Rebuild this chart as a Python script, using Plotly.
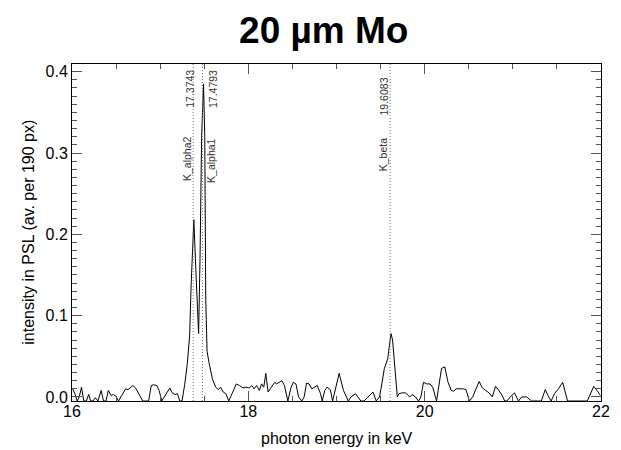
import plotly.graph_objects as go

# photon energy (keV) and intensity (PSL, av. per 190 px)
energy = [
    16.008, 16.033, 16.059, 16.082, 16.108, 16.134, 16.163, 16.189, 16.212, 16.238,
    16.264, 16.294, 16.331, 16.357, 16.386, 16.412, 16.442, 16.468, 16.498, 16.527,
    16.565, 16.583, 16.609, 16.635, 16.665, 16.691, 16.721, 16.746, 16.776, 16.802,
    16.839, 16.869, 16.899, 16.925, 16.962, 16.988, 17.018, 17.047, 17.084, 17.110,
    17.136, 17.166, 17.196, 17.222, 17.248, 17.278, 17.307, 17.334, 17.352, 17.370,
    17.382, 17.407, 17.436, 17.452, 17.470, 17.492, 17.506, 17.517, 17.532, 17.556,
    17.593, 17.630, 17.660, 17.685, 17.715, 17.745, 17.778, 17.815, 17.864, 17.900,
    17.940, 17.975, 18.010, 18.040, 18.065, 18.095, 18.125, 18.150, 18.175, 18.198,
    18.224, 18.260, 18.300, 18.320, 18.350, 18.380, 18.410, 18.448, 18.485, 18.511,
    18.540, 18.570, 18.607, 18.633, 18.660, 18.689, 18.719, 18.745, 18.782, 18.819,
    18.838, 18.867, 18.893, 18.930, 18.956, 19.030, 19.079, 19.134, 19.164, 19.216,
    19.276, 19.313, 19.376, 19.413, 19.451, 19.488, 19.514, 19.543, 19.581, 19.611,
    19.618, 19.636, 19.660, 19.690, 19.708, 19.745, 19.783, 19.831, 19.857, 19.894,
    19.931, 19.957, 19.987, 20.024, 20.061, 20.091, 20.135, 20.191, 20.228, 20.265,
    20.302, 20.328, 20.358, 20.432, 20.469, 20.507, 20.544, 20.581, 20.618, 20.655,
    20.692, 20.730, 20.767, 20.804, 20.841, 20.878, 20.908, 20.933, 20.970, 21.019,
    21.064, 21.100, 21.156, 21.212, 21.323, 21.368, 21.398, 21.435, 21.472, 21.517,
    21.565, 21.602, 21.621, 21.844, 21.881, 21.918, 21.955, 21.992,
]
intensity = [
    0.010, 0.004, -0.005, 0.000, 0.012, -0.005, -0.005, 0.003, -0.005, -0.005,
    -0.001, -0.005, 0.008, -0.005, -0.005, 0.008, 0.002, 0.003, 0.001, -0.005,
    0.002, 0.006, 0.010, 0.009, 0.012, 0.014, 0.011, 0.006, 0.001, -0.005,
    -0.005, -0.005, 0.014, 0.015, 0.014, 0.008, -0.005, 0.000, 0.006, 0.011,
    0.005, 0.003, 0.004, -0.005, -0.005, 0.015, 0.040, 0.075, 0.140, 0.200,
    0.218, 0.150, 0.078, 0.170, 0.320, 0.385, 0.320, 0.120, 0.056, 0.041,
    0.022, 0.012, 0.009, 0.012, 0.006, 0.004, -0.005, 0.004, 0.016, 0.014,
    0.011, 0.012, 0.011, 0.014, 0.010, 0.014, 0.008, 0.016, 0.012, 0.029,
    0.006, 0.012, 0.018, 0.016, 0.018, 0.020, 0.014, -0.005, 0.012, 0.018,
    0.016, 0.000, -0.005, 0.000, 0.017, 0.016, 0.010, 0.012, 0.014, 0.004,
    -0.005, 0.008, 0.012, 0.009, -0.005, 0.029, 0.008, -0.005, 0.000, 0.004,
    -0.005, -0.005, 0.002, 0.006, -0.005, 0.000, 0.016, 0.035, 0.047, 0.070,
    0.078, 0.070, 0.041, 0.000, 0.004, 0.005, 0.005, 0.000, 0.003, 0.000,
    -0.005, 0.000, 0.018, 0.016, 0.016, 0.012, -0.005, 0.035, 0.037, 0.018,
    0.008, 0.007, 0.010, 0.010, 0.009, -0.005, 0.000, 0.010, 0.019, 0.011,
    0.008, 0.005, 0.000, 0.013, 0.008, 0.002, -0.005, -0.005, 0.000, 0.005,
    -0.005, 0.000, 0.000, -0.005, -0.005, 0.009, 0.002, -0.005, 0.004, 0.010,
    0.018, 0.004, -0.005, -0.005, 0.004, 0.013, 0.008, 0.002,
]

# reference emission lines
line_energies = [17.3743, 17.4793, 19.6083]
line_names = ["K_alpha2", "K_alpha1", "K_beta"]
line_labels = ["17.3743", "17.4793", "19.6083"]

x_ticks = [16, 18, 20, 22]
y_ticks = [0.0, 0.1, 0.2, 0.3, 0.4]

FONT = "Liberation Sans, Arial, Helvetica, sans-serif"

fig = go.Figure()
fig.add_trace(go.Scatter(
    x=energy, y=intensity, mode="lines",
    line=dict(color="black", width=1),
    hoverinfo="skip", showlegend=False,
))

# dotted vertical marker lines
for e in line_energies:
    fig.add_shape(type="line", xref="x", yref="paper", x0=e, x1=e, y0=0, y1=1,
                  line=dict(color="#777777", width=1, dash="1px,2px"), layer="above")

# rotated labels (name lower, energy upper)
name_shift = [-5.5, 8.5, -7.5]
val_shift = [-4, 10, -6]
name_y = [0.720, 0.715, 0.731]
val_y = [0.927, 0.927, 0.904]
for e, nm, lb, ns, vs, ny, vy in zip(line_energies, line_names, line_labels,
                                     name_shift, val_shift, name_y, val_y):
    fig.add_annotation(x=e, xref="x", y=ny, yref="paper", text=nm, textangle=-90,
                       showarrow=False, xanchor="center", yanchor="middle", xshift=ns,
                       font=dict(family=FONT, size=10.5, color="#333333"))
    fig.add_annotation(x=e, xref="x", y=vy, yref="paper", text=lb, textangle=-90,
                       showarrow=False, xanchor="center", yanchor="middle", xshift=vs,
                       font=dict(family=FONT, size=10.5, color="#333333"))

# axis titles
fig.add_annotation(x=0.5, xref="paper", y=-0.110, yref="paper",
                   text="photon energy in keV", showarrow=False,
                   xanchor="center", yanchor="middle",
                   font=dict(family=FONT, size=16, color="black"))
fig.add_annotation(x=-0.0818, xref="paper", y=0.5015, yref="paper",
                   text="intensity in PSL (av. per 190 px)", showarrow=False,
                   textangle=-90, xanchor="center", yanchor="middle",
                   font=dict(family=FONT, size=16, color="black"))

fig.update_layout(
    width=621, height=450,
    margin=dict(l=72, r=11, t=64, b=49),
    paper_bgcolor="white", plot_bgcolor="white",
    font=dict(family=FONT, size=16, color="black"),
    title=dict(text="<b>20 µm Mo</b>", x=0.476, xref="paper", xanchor="center",
               y=1 - 30 / 450, yref="container", yanchor="middle",
               font=dict(family=FONT, size=37, color="black")),
    showlegend=False,
)
fig.update_xaxes(
    range=[16, 22], tickvals=x_ticks, ticktext=[str(v) for v in x_ticks],
    showgrid=False, zeroline=False,
    showline=True, linecolor="black", linewidth=1, mirror="ticks",
    ticks="inside", ticklen=10, tickcolor="#555555", tickwidth=1,
    ticklabelstandoff=-4,
    minor=dict(ticks="inside", ticklen=5, dtick=0.5, tick0=16, tickcolor="#555555", showgrid=False),
    tickfont=dict(family=FONT, size=16, color="black"),
)
fig.update_yaxes(
    range=[-0.005, 0.4095], tickvals=y_ticks, ticktext=[f"{v:.1f}" for v in y_ticks],
    showgrid=False, zeroline=False,
    showline=True, linecolor="black", linewidth=1, mirror="ticks",
    ticks="inside", ticklen=10, tickcolor="#555555", tickwidth=1,
    minor=dict(ticks="inside", ticklen=5, dtick=0.01, tick0=0, tickcolor="#555555", showgrid=False),
    tickfont=dict(family=FONT, size=16, color="black"),
)

fig.write_html("out.html")
